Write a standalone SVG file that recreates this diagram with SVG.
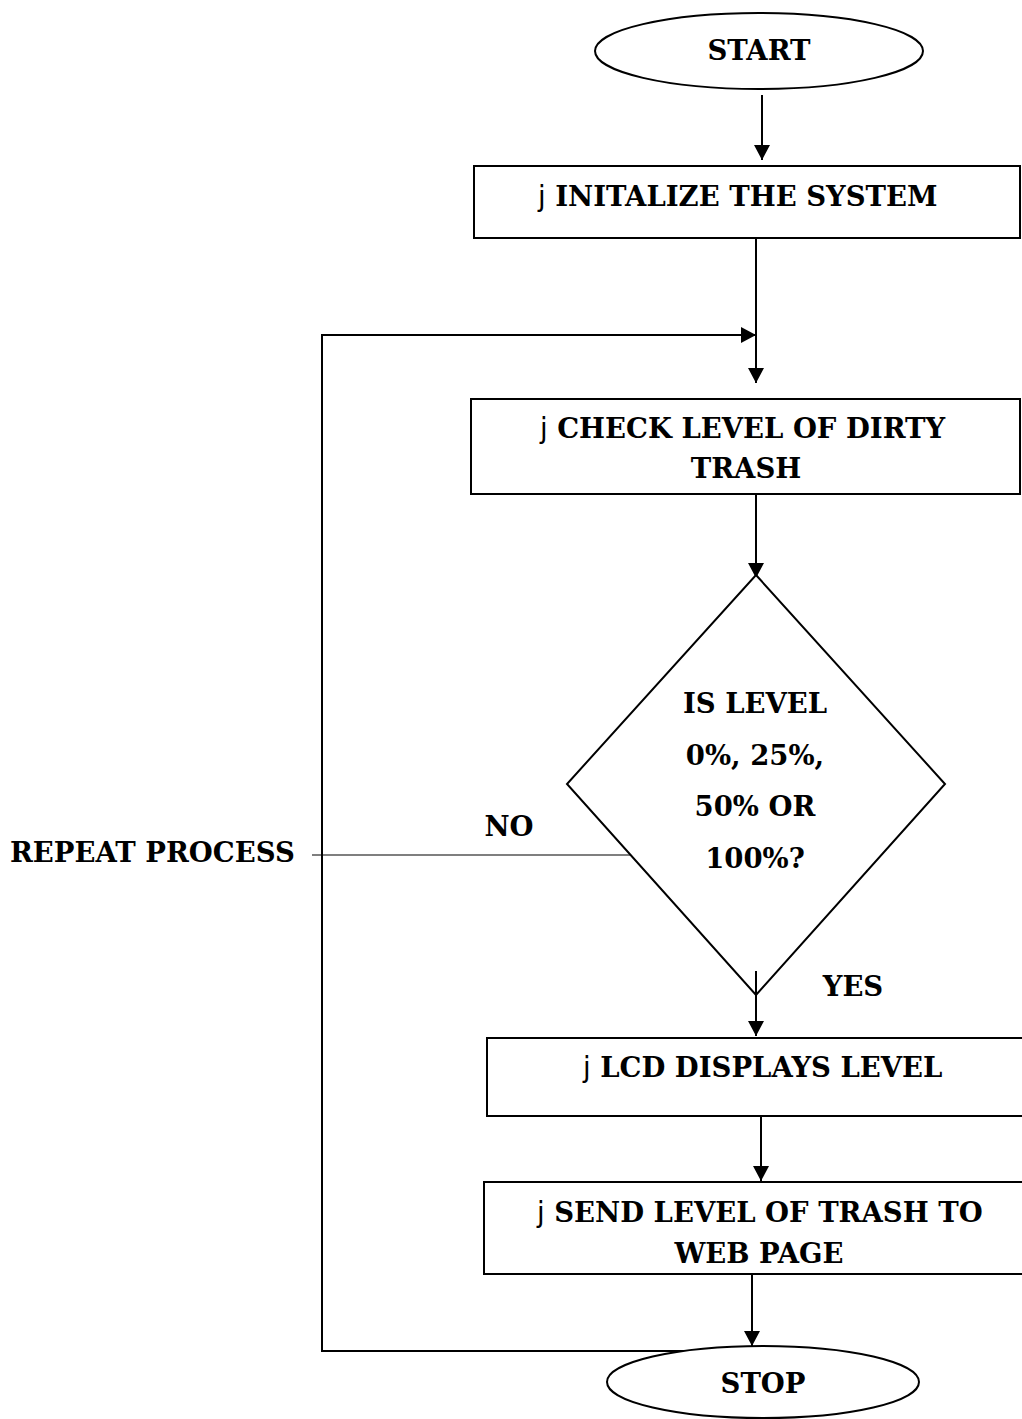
<svg xmlns="http://www.w3.org/2000/svg" width="1022" height="1419" viewBox="0 0 1022 1419">
<style>
.shape{fill:#fff;stroke:#000;stroke-width:2}
.line{fill:none;stroke:#000;stroke-width:2}
.thin{fill:none;stroke:#000;stroke-width:1.2}
.t{font-family:"DejaVu Serif","Liberation Serif",serif;font-weight:bold;font-size:27.5px;fill:#000}
.j{font-family:"DejaVu Sans","Liberation Sans",sans-serif;font-weight:normal}
</style>
<defs>
<marker id="arr" markerWidth="16" markerHeight="16" refX="15" refY="8" orient="auto" markerUnits="userSpaceOnUse">
<path d="M0,0 L15,8 L0,16 Z" fill="#000"/>
</marker>
</defs>
<rect width="1022" height="1419" fill="#fff"/>
<g id="connectors">
<line class="line" x1="762" y1="95" x2="762" y2="160" marker-end="url(#arr)"/>
<line class="line" x1="756" y1="239" x2="756" y2="383" marker-end="url(#arr)"/>
<polyline class="line" points="749,1351 322,1351 322,335 756,335" marker-end="url(#arr)"/>
<line class="line" x1="756" y1="494" x2="756" y2="578" marker-end="url(#arr)"/>
<line class="thin" x1="312" y1="855" x2="630" y2="855"/>
<line class="line" x1="756" y1="971" x2="756" y2="1036" marker-end="url(#arr)"/>
<line class="line" x1="761" y1="1117" x2="761" y2="1181" marker-end="url(#arr)"/>
<line class="line" x1="752" y1="1266" x2="752" y2="1346" marker-end="url(#arr)"/>
</g>
<g id="start">
<ellipse class="shape" cx="759" cy="51" rx="164" ry="38"/>
<text class="t" x="759" y="60" text-anchor="middle">START</text>
</g>
<g id="init">
<rect class="shape" x="474" y="166" width="546" height="72"/>
<text class="t" x="538" y="206"><tspan class="j">j</tspan> INITALIZE THE SYSTEM</text>
</g>
<g id="check">
<rect class="shape" x="471" y="399" width="549" height="95"/>
<text class="t" x="540" y="438"><tspan class="j">j</tspan> CHECK LEVEL OF DIRTY</text>
<text class="t" x="746" y="478" text-anchor="middle">TRASH</text>
</g>
<g id="decision">
<polygon class="shape" points="756,575 945,784 756,995 567,784"/>
<line class="line" x1="756" y1="971" x2="756" y2="995"/>
<text class="t" x="755" y="713" text-anchor="middle">IS LEVEL</text>
<text class="t" x="755" y="765" text-anchor="middle">0%, 25%,</text>
<text class="t" x="755" y="816" text-anchor="middle">50% OR</text>
<text class="t" x="755" y="868" text-anchor="middle">100%?</text>
</g>
<g id="label-no"><text class="t" x="509" y="836" text-anchor="middle">NO</text></g>
<g id="label-yes"><text class="t" x="853" y="996" text-anchor="middle">YES</text></g>
<g id="label-repeat"><text class="t" x="10" y="862">REPEAT PROCESS</text></g>
<g id="lcd">
<rect class="shape" x="487" y="1038" width="540" height="78"/>
<text class="t" x="583" y="1077"><tspan class="j">j</tspan> LCD DISPLAYS LEVEL</text>
</g>
<g id="send">
<rect class="shape" x="484" y="1182" width="543" height="92"/>
<text class="t" x="537" y="1222"><tspan class="j">j</tspan> SEND LEVEL OF TRASH TO</text>
<text class="t" x="759" y="1263" text-anchor="middle">WEB PAGE</text>
</g>
<g id="stop">
<ellipse class="shape" cx="763" cy="1382" rx="156" ry="36"/>
<text class="t" x="763" y="1393" text-anchor="middle">STOP</text>
</g>
</svg>
